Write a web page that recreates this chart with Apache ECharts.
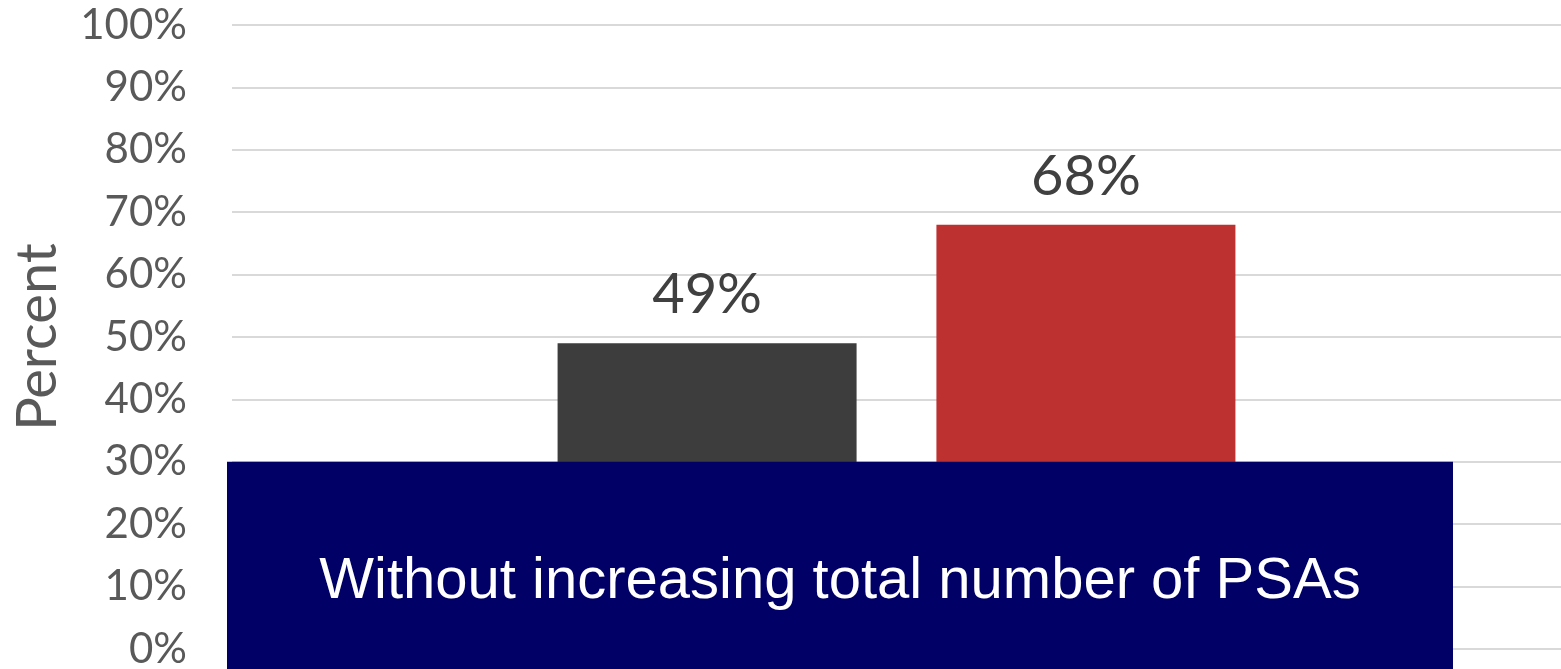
<!DOCTYPE html>
<html>
<head>
<meta charset="utf-8">
<script src="https://cdn.jsdelivr.net/npm/echarts@6/dist/echarts.min.js"></script>
<style>
  html, body { margin: 0; padding: 0; background: #fff; }
  #main { width: 1561px; height: 669px; }
</style>
</head>
<body>
<div id="main"></div>
<script>
// data
var categories = ['Without increasing total number of PSAs'];
var darkValues = [49];
var redValues = [68];
var yTicks = [0, 10, 20, 30, 40, 50, 60, 70, 80, 90, 100];
var boxTop = 30; // the navy caption box starts at the 30% line

var myChart = echarts.init(document.getElementById('main'));
var font = 'Lato, "Open Sans", sans-serif';

var option = {
  animation: false,
  grid: { left: 232, right: 0, top: 25, bottom: 20, containLabel: false, outerBoundsMode: 'none' },
  xAxis: {
    type: 'category',
    data: categories,
    axisLine: { show: false },
    axisTick: { show: false },
    axisLabel: { show: false }
  },
  yAxis: {
    type: 'value',
    min: yTicks[0],
    max: yTicks[yTicks.length - 1],
    interval: 10,
    name: 'Percent',
    nameLocation: 'middle',
    nameGap: 166,
    nameRotate: 90,
    nameTextStyle: { fontFamily: font, fontSize: 56, color: '#595959' },
    axisLine: { show: false },
    axisTick: { show: false },
    axisLabel: {
      formatter: '{value}%',
      fontFamily: font, fontSize: 42, color: '#595959', margin: 45
    },
    splitLine: { lineStyle: { color: '#d9d9d9', width: 2 } }
  },
  series: [{
    type: 'bar',
    data: darkValues,
    barWidth: 299,
    barGap: '26.7%',
    itemStyle: { color: '#3d3d3d' },
    label: {
      show: true, position: 'top', distance: 20, formatter: '{c}%',
      fontFamily: font, fontSize: 56, color: '#404040'
    }
  }, {
    type: 'bar',
    data: redValues,
    barWidth: 299,
    barGap: '26.7%',
    itemStyle: { color: '#bd3230' },
    label: {
      show: true, position: 'top', distance: 20, formatter: '{c}%',
      fontFamily: font, fontSize: 56, color: '#404040'
    }
  }]
};
myChart.setOption(option);

// caption box sits over the lower part of the plot
var topPx = myChart.convertToPixel({ yAxisIndex: 0 }, boxTop);
myChart.setOption({
  graphic: [{
    type: 'group',
    left: 227,
    top: topPx,
    zlevel: 1,
    z: 100,
    children: [{
      type: 'rect',
      z: 100,
      shape: { x: 0, y: 0, width: 1226, height: 669 - topPx },
      style: { fill: '#000066' }
    }, {
      type: 'text',
      z: 101,
      x: 613,
      y: (669 - topPx) / 2 + 17,
      style: {
        text: categories[0],
        fill: '#fff',
        font: '58px "Liberation Sans", Arial, sans-serif',
        textAlign: 'center',
        textVerticalAlign: 'middle'
      }
    }]
  }]
});
</script>
</body>
</html>
